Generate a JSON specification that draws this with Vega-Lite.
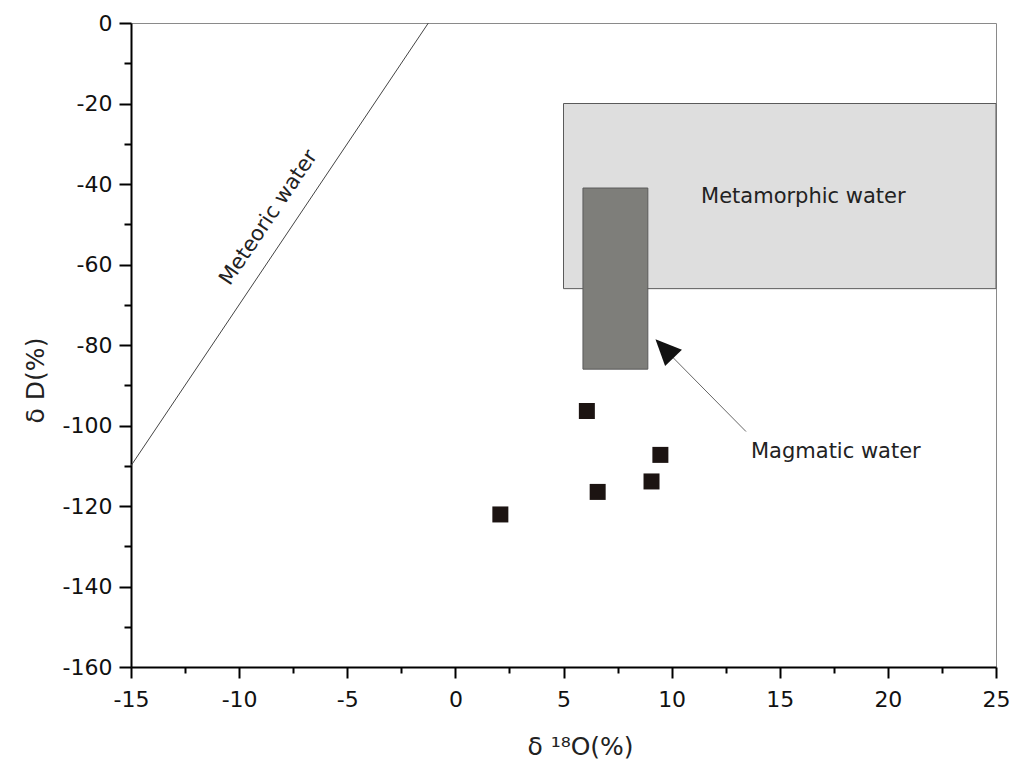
{
  "$schema": "https://vega.github.io/schema/vega-lite/v6.json",
  "width": 865,
  "height": 644,
  "autosize": {"type": "none"},
  "padding": {"left": 131, "top": 23, "right": 28, "bottom": 96},
  "background": "white",
  "config": {"view": {"stroke": "#8a8a8a", "strokeWidth": 1}, "font": "DejaVu Sans"},
  "datasets": {
    "regions": [
      {"x": 5, "x2": 25, "y": -20, "y2": -66, "name": "Metamorphic"},
      {"x": 5.9, "x2": 8.9, "y": -41, "y2": -86, "name": "Magmatic"}
    ],
    "meteoric": [
      {"x": -15, "y": -110},
      {"x": -1.25, "y": 0}
    ],
    "samples": [
      {"x": 6.08, "y": -96.4},
      {"x": 9.48, "y": -107.3},
      {"x": 9.07, "y": -113.9},
      {"x": 6.58, "y": -116.5},
      {"x": 2.08, "y": -122.1}
    ],
    "arrowLine": [{"x": 13.44, "y": -101.5, "x2": 9.6, "y2": -80.6}],
    "arrowHead": [{"x": 9.67, "y": -80.9}],
    "metLabel": [{"x": -8.63, "y": -48.4, "label": "Meteoric water"}],
    "otherLabels": [
      {"x": 11.36, "y": -44.6, "label": "Metamorphic water"},
      {"x": 13.67, "y": -108.1, "label": "Magmatic water"}
    ]
  },
  "encoding": {
    "x": {
      "field": "x",
      "type": "quantitative",
      "scale": {"domain": [-15, 25], "nice": false, "zero": false},
      "axis": {
        "title": "δ ¹⁸O(%)",
        "values": [-15, -12.5, -10, -7.5, -5, -2.5, 0, 2.5, 5, 7.5, 10, 12.5, 15, 17.5, 20, 22.5, 25],
        "labelExpr": "datum.value % 5 === 0 ? '' + datum.value : ''",
        "tickSize": {"condition": {"test": "datum.value % 5 === 0", "value": 11}, "value": 6},
        "domainColor": "black",
        "domainWidth": 2,
        "tickColor": "black",
        "tickWidth": 2,
        "grid": false,
        "labelFont": "DejaVu Sans",
        "labelFontSize": 22,
        "labelColor": "#111",
        "labelPadding": 11,
        "labelOverlap": false,
        "labelFlush": false,
        "titleFont": "DejaVu Sans",
        "titleFontSize": 25,
        "titleFontWeight": "normal",
        "titleColor": "#222",
        "titleX": 449,
        "titleY": 87,
        "titleBaseline": "alphabetic",
        "titleAlign": "center"
      }
    },
    "y": {
      "field": "y",
      "type": "quantitative",
      "scale": {"domain": [-160, 0], "nice": false, "zero": false},
      "axis": {
        "title": "δ D(%)",
        "values": [-160, -150, -140, -130, -120, -110, -100, -90, -80, -70, -60, -50, -40, -30, -20, -10, 0],
        "labelExpr": "datum.value % 20 === 0 ? '' + datum.value : ''",
        "tickSize": {"condition": {"test": "datum.value % 20 === 0", "value": 12}, "value": 7},
        "domainColor": "black",
        "domainWidth": 2,
        "tickColor": "black",
        "tickWidth": 2,
        "grid": false,
        "labelFont": "DejaVu Sans",
        "labelFontSize": 22,
        "labelColor": "#111",
        "labelPadding": 7,
        "labelOverlap": false,
        "labelFlush": false,
        "titleFont": "DejaVu Sans",
        "titleFontSize": 25,
        "titleFontWeight": "normal",
        "titleColor": "#222",
        "titleAngle": -90,
        "titleX": -96,
        "titleY": 357,
        "titleBaseline": "middle",
        "titleAlign": "center"
      }
    }
  },
  "layer": [
    {
      "data": {"name": "regions"},
      "mark": {"type": "rect", "stroke": "#5a5a5a", "strokeWidth": 1},
      "encoding": {
        "x2": {"field": "x2"},
        "y2": {"field": "y2"},
        "fill": {
          "field": "name",
          "type": "nominal",
          "scale": {"domain": ["Metamorphic", "Magmatic"], "range": ["#dedede", "#7e7e7a"]},
          "legend": null
        }
      }
    },
    {
      "data": {"name": "meteoric"},
      "mark": {"type": "line", "color": "#444", "strokeWidth": 1},
      "encoding": {}
    },
    {
      "data": {"name": "arrowLine"},
      "mark": {"type": "rule", "color": "#666", "strokeWidth": 1},
      "encoding": {"x2": {"field": "x2"}, "y2": {"field": "y2"}}
    },
    {
      "data": {"name": "arrowHead"},
      "mark": {"type": "point", "shape": "M0,-1L-0.9,1L0.9,1Z", "size": 676, "angle": -44, "filled": true, "color": "#111", "opacity": 1}
    },
    {
      "data": {"name": "samples"},
      "mark": {"type": "point", "shape": "square", "size": 256, "filled": true, "color": "#1c1412", "opacity": 1}
    },
    {
      "data": {"name": "metLabel"},
      "mark": {"type": "text", "angle": -56, "align": "center", "baseline": "middle", "font": "DejaVu Sans", "fontSize": 21, "color": "#222"},
      "encoding": {"text": {"field": "label"}}
    },
    {
      "data": {"name": "otherLabels"},
      "mark": {"type": "text", "align": "left", "baseline": "alphabetic", "font": "DejaVu Sans", "fontSize": 21, "color": "#222"},
      "encoding": {"text": {"field": "label"}}
    }
  ]
}
